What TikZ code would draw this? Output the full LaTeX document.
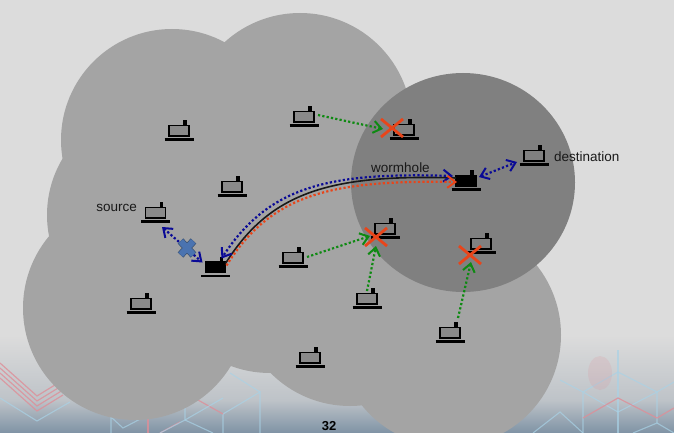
\documentclass[tikz,border=0pt]{standalone}
\usepackage{fontspec}
\setmainfont{Liberation Sans}
\usetikzlibrary{arrows.meta,calc}
\definecolor{bgtop}{HTML}{DCDCDC}
\definecolor{bgmid}{HTML}{BEC3C8}
\definecolor{bgbot}{HTML}{7F93A5}
\definecolor{cloud}{HTML}{A4A4A4}
\definecolor{hole}{HTML}{808080}
\definecolor{lapfill}{HTML}{8A8A8A}
\definecolor{arrblue}{HTML}{0A0A96}
\definecolor{arrred}{HTML}{E8451A}
\definecolor{arrgreen}{HTML}{0E8A12}
\definecolor{xblue}{HTML}{4A73B0}
\definecolor{xedge}{HTML}{3A5070}
\definecolor{hexblue}{HTML}{A9D2E6}
\definecolor{hexred}{HTML}{DE8E98}
\tikzset{
  x=1pt,y=-1pt,
  area/.style={fill=cloud,draw=none},
  dots/.style={line width=2.2pt,dash pattern=on 2.2pt off 2.2pt},
  barbs/.style={arrows={-{Straight Barb[length=8pt,width=12pt,line width=2pt]}}},
  dbarbs/.style={arrows={{Straight Barb[length=8pt,width=12pt,line width=2pt]}-{Straight Barb[length=8pt,width=12pt,line width=2pt]}}},
  jam/.style={dots,draw=arrgreen,barbs},
  bluelink/.style={dots,draw=arrblue,dbarbs},
  wormline/.style={draw=black!90,line width=1.6pt},
  crossmark/.style={draw=arrred,line width=2.8pt},
  lbl/.style={font=\fontsize{13.5}{15}\selectfont,text=black!90,inner sep=0pt},
  hexline/.style={draw=hexblue,line width=1.1pt,opacity=.7},
  redline/.style={draw=hexred,line width=1.2pt,opacity=.8},
  pics/laptop/.style={code={
    \fill[black] (4,-11) rectangle (7.5,-5);
    \filldraw[draw=black,line width=1.9pt,fill=#1] (-10,-5.5) rectangle (10,5);
    \draw[black,line width=2.2pt] (-14.5,8.5) -- (14.5,8.5);
  }},
}
\begin{document}
\begin{tikzpicture}
\useasboundingbox (0,0) rectangle (674,433);
\fill[bgtop] (0,0) rectangle (674,433);
\fill[top color=bgtop,bottom color=bgmid] (0,335) rectangle (674,400);
\fill[top color=bgmid,bottom color=bgbot] (0,400) rectangle (674,433);
% background circuitry
\begin{scope}
\clip (0,340) rectangle (674,433);
\foreach \d in {0,5,10,15}
  \draw[redline] (0,{378-\d}) -- (37,{411-\d}) -- (63,{395-\d});
\draw[hexline] (0,398) -- (37,421) -- (70,402);
\draw[hexline] (111,433) -- (111,417) -- (123,428) -- (148,415);
\draw[redline] (148,433) -- (148,418);
\draw[redline] (160,433) -- (180,422);
\draw[hexline] (185,407) -- (185,420) -- (160,433);
\draw[hexline] (185,420) -- (213,433);
\draw[hexline] (223,433) -- (223,414) -- (260,392) -- (260,433);
\draw[hexline] (230,373) -- (260,392);
\draw[redline] (198,400) -- (223,414);
\draw[hexline] (185,420) -- (223,398);
\draw[hexline] (583,433) -- (583,392) -- (618,372) -- (657,392) -- (618,412) -- (583,392);
\draw[hexline] (560,380) -- (583,392);
\draw[hexline,line width=1.6pt] (618,350) -- (618,433);
\draw[hexline] (657,392) -- (674,382);
\draw[hexline] (657,392) -- (657,423) -- (633,433);
\draw[hexline] (657,423) -- (674,433);
\draw[hexline] (533,433) -- (560,412) -- (583,433);
\draw[redline] (583,418) -- (618,398) -- (657,418) -- (674,408);
\fill[hexred,opacity=.18] (600,373) ellipse[x radius=12,y radius=17];
\end{scope}
% coverage areas
\fill[area] (300,125) circle[radius=112];
\fill[area] (172,140) circle[radius=111];
\fill[area] (157,215) circle[radius=110];
\fill[area] (135,308) circle[radius=112];
\fill[area] (270,261) circle[radius=112];
\fill[area] (350,294) circle[radius=112];
\fill[area] (449,335) circle[radius=112];
\fill[hole] (463,182.5) ellipse[x radius=112,y radius=109.5];
% laptops
\foreach \n/\x/\y in {a/179/131,b/304/117,c/232/187,src/155.5/213,d/293/258,e/367/299,f/450/333,g/141/304,h/310/358}
  {\coordinate (\n) at (\x,\y); \pic at (\n) {laptop=lapfill};}
\foreach \n/\x/\y in {j1/404/130,j2/385/229,j3/481/244,dst/534/156}
  {\coordinate (\n) at (\x,\y); \pic at (\n) {laptop=hole};}
\coordinate (w1) at (215.5,267.5); \pic at (w1) {laptop=black};
\coordinate (w2) at (466,181); \pic at (w2) {laptop=black};
% jam marks
\coordinate (x1) at (392,128);
\coordinate (x2) at (376,237);
\coordinate (x3) at (470,255);
\coordinate (xb) at (187,248);
% wormhole
\draw[wormline] ($(w1)+(10,-4)$) .. controls +(45,-72) and +(-125,-4) .. ($(w2)+(-10,-3)$);
\draw[dots,draw=arrblue,dbarbs] ($(w2)+(-13,-5)$) .. controls +(-125,-4) and +(47,-72) .. ($(w1)+(6,-9)$);
\draw[dots,draw=arrred,barbs] ($(w1)+(11,-2)$) .. controls +(45,-72) and +(-125,-2) .. ($(w2)+(-9,1)$);
% links
\draw[bluelink] ($(w2)+(13,-4)$) -- ($(dst)+(-17,6)$);
\draw[bluelink] ($(src)+(6.5,14)$) -- ($(w1)+(-13,-5)$);
\draw[jam] ($(b)+(14,-2)$) -- ($(x1)+(-9,1)$);
\draw[jam] ($(d)+(14,-1)$) -- ($(x2)+(-6,-1)$);
\draw[jam] ($(e)+(0,-8)$) -- ($(x2)+(0,9)$);
\draw[jam] ($(f)+(8,-15)$) -- ($(x3)+(1,7)$);
% crosses
\foreach \c in {x1,x2,x3}
  \draw[crossmark] ($(\c)+(-11,-9)$) -- ($(\c)+(11,9)$) ($(\c)+(-11,9)$) -- ($(\c)+(11,-9)$);
\draw[xedge,line width=7.6pt] ($(xb)+(-6.5,-7)$) -- ($(xb)+(6.5,7)$) ($(xb)+(-6.5,7)$) -- ($(xb)+(6.5,-7)$);
\draw[xblue,line width=6.2pt] ($(xb)+(-6.3,-6.8)$) -- ($(xb)+(6.3,6.8)$) ($(xb)+(-6.3,6.8)$) -- ($(xb)+(6.3,-6.8)$);
% labels
\node[lbl,anchor=east] (lsrc) at (137,207.5) {source};
\node[lbl] (lworm) at (400.5,168) {wormhole};
\node[lbl,anchor=west] (ldst) at (554,157) {destination};
\node[inner sep=0pt,font=\fontsize{13}{14}\selectfont\bfseries] (page) at (329,426) {32};
\end{tikzpicture}
\end{document}
